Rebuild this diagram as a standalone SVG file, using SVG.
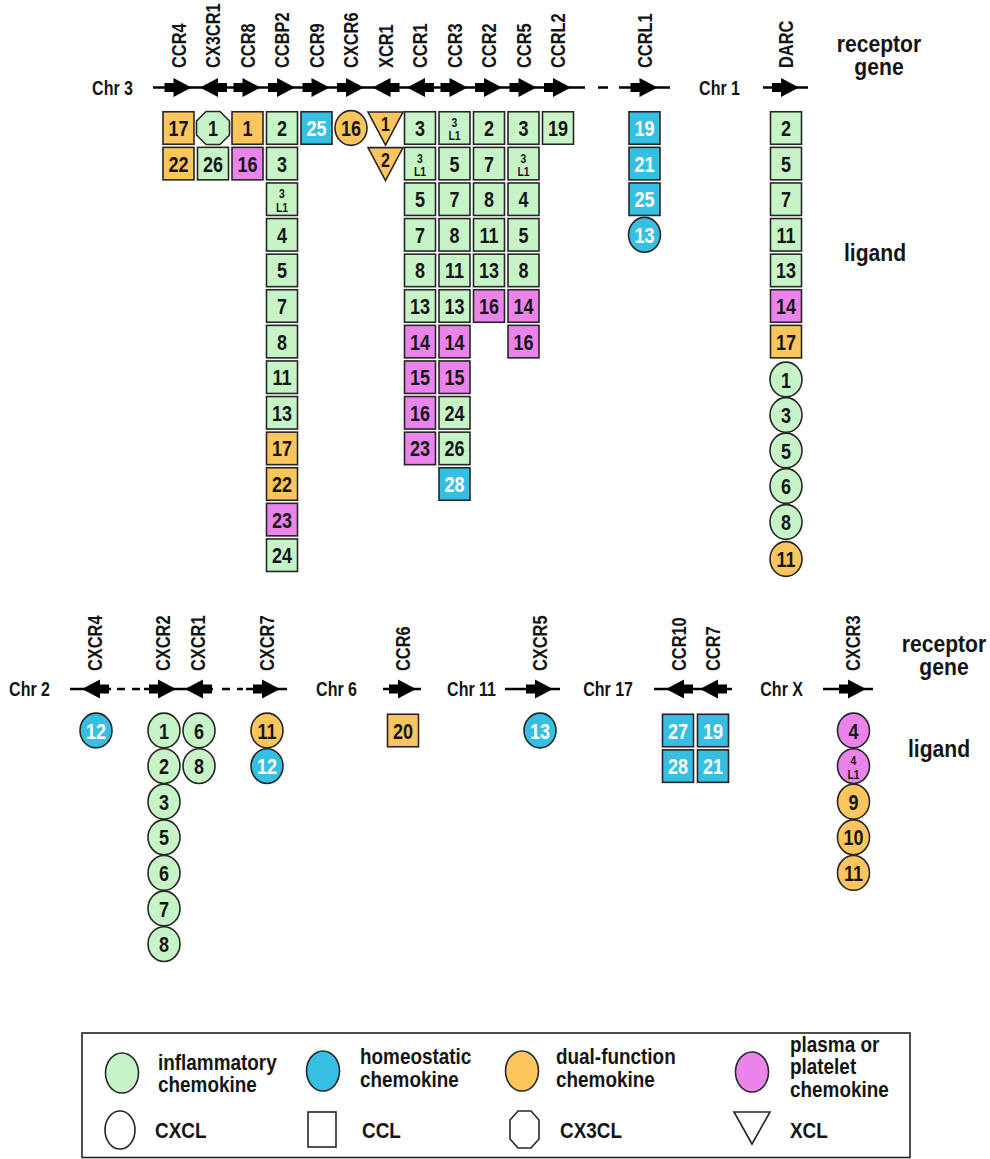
<svg xmlns="http://www.w3.org/2000/svg" xmlns:xlink="http://www.w3.org/1999/xlink" width="990" height="1159" viewBox="0 0 990 1159">
<style>
.sh{stroke:#262626;stroke-width:1.6}
.g{fill:#c6f4c6}
.b{fill:#36bfe2}
.o{fill:#fcc55d}
.p{fill:#eb84ea}
.w{fill:#fff}
text{font-family:"Liberation Sans",Arial,sans-serif;font-weight:bold;fill:#151515}
.n{font-size:22.5px;text-anchor:middle;transform:scale(0.8,1)}
.nw{fill:#fff}
.sm{font-size:13px}
.tri{font-size:20px}
.lab{font-size:20px}
.chr{font-size:20px;text-anchor:end}
.big{font-size:24px;text-anchor:middle}
.leg{font-size:22px}
.ln{stroke:#000;stroke-width:2.5;fill:none}
.arr{fill:#000}
</style>
<defs>
<rect id="sq" x="-15.5" y="-16.25" width="31" height="32.5"/>
<ellipse id="ci" rx="16" ry="17.4"/>
<polygon id="oc" points="-7,-16.5 7,-16.5 16.5,-7 16.5,7 7,16.5 -7,16.5 -16.5,7 -16.5,-7"/>
<polygon id="tr" points="-17.5,-16 17.5,-16 0,17"/>
<path id="ar" d="M-14,-4.5 H-5 V-9.5 L13,0 L-5,9.5 V4.5 H-14 Z"/>
</defs>
<rect width="990" height="1159" fill="#fff"/>

<!-- chromosome lines -->
<g id="chromosomes" class="ln">
<path d="M153,87.5 H585 M598,87.5 H608 M619,87.5 H670 M763,87.5 H808"/>
<path d="M70,689 H111 M117,689 H125 M132,689 H140 M144,689 H213 M222,689 H230 M237,689 H243 M246,689 H287"/>
<path d="M383,689 H421 M505,689 H560 M654,689 H732 M823,689 H873"/>
</g>

<!-- chromosome names and axis captions -->
<g id="captions">
<text class="chr" transform="translate(133,94.5) scale(0.8,1)">Chr 3</text>
<text class="chr" transform="translate(740,94.5) scale(0.8,1)">Chr 1</text>
<text class="chr" transform="translate(50,696) scale(0.8,1)">Chr 2</text>
<text class="chr" transform="translate(357,696) scale(0.8,1)">Chr 6</text>
<text class="chr" transform="translate(496,696) scale(0.8,1)">Chr 11</text>
<text class="chr" transform="translate(633,696) scale(0.8,1)">Chr 17</text>
<text class="chr" transform="translate(803,696) scale(0.8,1)">Chr X</text>
<text class="big" transform="translate(879,52) scale(0.88,1)">receptor</text>
<text class="big" transform="translate(879,75) scale(0.88,1)">gene</text>
<text class="big" transform="translate(875,261) scale(0.88,1)">ligand</text>
<text class="big" transform="translate(944,652) scale(0.88,1)">receptor</text>
<text class="big" transform="translate(944,675) scale(0.88,1)">gene</text>
<text class="big" transform="translate(939,757) scale(0.88,1)">ligand</text>
</g>

<!-- receptor genes: name and orientation -->
<g id="genes">
<g id="gene-CCR4"><text class="lab" transform="translate(178.5,68) rotate(-90) scale(0.82,1)" dy="0.36em">CCR4</text><use xlink:href="#ar" class="arr" transform="translate(178.5,87.5)"/></g>
<g id="gene-CX3CR1"><text class="lab" transform="translate(213,68) rotate(-90) scale(0.82,1)" dy="0.36em">CX3CR1</text><use xlink:href="#ar" class="arr" transform="translate(213,87.5) scale(-1,1)"/></g>
<g id="gene-CCR8"><text class="lab" transform="translate(247.5,68) rotate(-90) scale(0.82,1)" dy="0.36em">CCR8</text><use xlink:href="#ar" class="arr" transform="translate(247.5,87.5)"/></g>
<g id="gene-CCBP2"><text class="lab" transform="translate(282,68) rotate(-90) scale(0.82,1)" dy="0.36em">CCBP2</text><use xlink:href="#ar" class="arr" transform="translate(282,87.5)"/></g>
<g id="gene-CCR9"><text class="lab" transform="translate(316.5,68) rotate(-90) scale(0.82,1)" dy="0.36em">CCR9</text><use xlink:href="#ar" class="arr" transform="translate(316.5,87.5)"/></g>
<g id="gene-CXCR6"><text class="lab" transform="translate(351,68) rotate(-90) scale(0.82,1)" dy="0.36em">CXCR6</text><use xlink:href="#ar" class="arr" transform="translate(351,87.5)"/></g>
<g id="gene-XCR1"><text class="lab" transform="translate(385.5,68) rotate(-90) scale(0.82,1)" dy="0.36em">XCR1</text><use xlink:href="#ar" class="arr" transform="translate(385.5,87.5) scale(-1,1)"/></g>
<g id="gene-CCR1"><text class="lab" transform="translate(420,68) rotate(-90) scale(0.82,1)" dy="0.36em">CCR1</text><use xlink:href="#ar" class="arr" transform="translate(420,87.5) scale(-1,1)"/></g>
<g id="gene-CCR3"><text class="lab" transform="translate(454.5,68) rotate(-90) scale(0.82,1)" dy="0.36em">CCR3</text><use xlink:href="#ar" class="arr" transform="translate(454.5,87.5)"/></g>
<g id="gene-CCR2"><text class="lab" transform="translate(489,68) rotate(-90) scale(0.82,1)" dy="0.36em">CCR2</text><use xlink:href="#ar" class="arr" transform="translate(489,87.5)"/></g>
<g id="gene-CCR5"><text class="lab" transform="translate(523.5,68) rotate(-90) scale(0.82,1)" dy="0.36em">CCR5</text><use xlink:href="#ar" class="arr" transform="translate(523.5,87.5)"/></g>
<g id="gene-CCRL2"><text class="lab" transform="translate(558,68) rotate(-90) scale(0.82,1)" dy="0.36em">CCRL2</text><use xlink:href="#ar" class="arr" transform="translate(558,87.5)"/></g>
<g id="gene-CCRL1"><text class="lab" transform="translate(644.5,68) rotate(-90) scale(0.82,1)" dy="0.36em">CCRL1</text><use xlink:href="#ar" class="arr" transform="translate(644.5,87.5)"/></g>
<g id="gene-DARC"><text class="lab" transform="translate(786,68) rotate(-90) scale(0.82,1)" dy="0.36em">DARC</text><use xlink:href="#ar" class="arr" transform="translate(786,87.5)"/></g>
<g id="gene-CXCR4"><text class="lab" transform="translate(95,671) rotate(-90) scale(0.82,1)" dy="0.36em">CXCR4</text><use xlink:href="#ar" class="arr" transform="translate(95,689) scale(-1,1)"/></g>
<g id="gene-CXCR2"><text class="lab" transform="translate(163,671) rotate(-90) scale(0.82,1)" dy="0.36em">CXCR2</text><use xlink:href="#ar" class="arr" transform="translate(163,689)"/></g>
<g id="gene-CXCR1"><text class="lab" transform="translate(198,671) rotate(-90) scale(0.82,1)" dy="0.36em">CXCR1</text><use xlink:href="#ar" class="arr" transform="translate(198,689) scale(-1,1)"/></g>
<g id="gene-CXCR7"><text class="lab" transform="translate(267,671) rotate(-90) scale(0.82,1)" dy="0.36em">CXCR7</text><use xlink:href="#ar" class="arr" transform="translate(267,689)"/></g>
<g id="gene-CCR6"><text class="lab" transform="translate(403,671) rotate(-90) scale(0.82,1)" dy="0.36em">CCR6</text><use xlink:href="#ar" class="arr" transform="translate(403,689)"/></g>
<g id="gene-CXCR5"><text class="lab" transform="translate(540,671) rotate(-90) scale(0.82,1)" dy="0.36em">CXCR5</text><use xlink:href="#ar" class="arr" transform="translate(540,689)"/></g>
<g id="gene-CCR10"><text class="lab" transform="translate(679,671) rotate(-90) scale(0.82,1)" dy="0.36em">CCR10</text><use xlink:href="#ar" class="arr" transform="translate(679,689) scale(-1,1)"/></g>
<g id="gene-CCR7"><text class="lab" transform="translate(713,671) rotate(-90) scale(0.82,1)" dy="0.36em">CCR7</text><use xlink:href="#ar" class="arr" transform="translate(713,689) scale(-1,1)"/></g>
<g id="gene-CXCR3"><text class="lab" transform="translate(853,671) rotate(-90) scale(0.82,1)" dy="0.36em">CXCR3</text><use xlink:href="#ar" class="arr" transform="translate(853,689)"/></g>
</g>

<!-- ligands on chromosome 3 and 1 -->
<g id="ligands-top">
<g id="CCR4-CCL17" transform="translate(178.5,128)"><use xlink:href="#sq" class="o sh"/><text class="n" y="8">17</text></g>
<g id="CCR4-CCL22" transform="translate(178.5,163.6)"><use xlink:href="#sq" class="o sh"/><text class="n" y="8">22</text></g>
<g id="CX3CR1-CX3CL1" transform="translate(213,128)"><use xlink:href="#oc" class="g sh"/><text class="n" y="8">1</text></g>
<g id="CX3CR1-CCL26" transform="translate(213,163.6)"><use xlink:href="#sq" class="g sh"/><text class="n" y="8">26</text></g>
<g id="CCR8-CCL1" transform="translate(247.5,128)"><use xlink:href="#sq" class="o sh"/><text class="n" y="8">1</text></g>
<g id="CCR8-CCL16" transform="translate(247.5,163.6)"><use xlink:href="#sq" class="p sh"/><text class="n" y="8">16</text></g>

<g id="CCBP2-CCL2" transform="translate(282,128)"><use xlink:href="#sq" class="g sh"/><text class="n" y="8">2</text></g>
<g id="CCBP2-CCL3" transform="translate(282,163.6)"><use xlink:href="#sq" class="g sh"/><text class="n" y="8">3</text></g>
<g id="CCBP2-CCL3L1" transform="translate(282,199.2)"><use xlink:href="#sq" class="g sh"/><text class="n sm" y="-1">3</text><text class="n sm" y="12.5">L1</text></g>
<g id="CCBP2-CCL4" transform="translate(282,234.8)"><use xlink:href="#sq" class="g sh"/><text class="n" y="8">4</text></g>
<g id="CCBP2-CCL5" transform="translate(282,270.4)"><use xlink:href="#sq" class="g sh"/><text class="n" y="8">5</text></g>
<g id="CCBP2-CCL7" transform="translate(282,306)"><use xlink:href="#sq" class="g sh"/><text class="n" y="8">7</text></g>
<g id="CCBP2-CCL8" transform="translate(282,341.6)"><use xlink:href="#sq" class="g sh"/><text class="n" y="8">8</text></g>
<g id="CCBP2-CCL11" transform="translate(282,377.2)"><use xlink:href="#sq" class="g sh"/><text class="n" y="8">11</text></g>
<g id="CCBP2-CCL13" transform="translate(282,412.8)"><use xlink:href="#sq" class="g sh"/><text class="n" y="8">13</text></g>
<g id="CCBP2-CCL17" transform="translate(282,448.4)"><use xlink:href="#sq" class="o sh"/><text class="n" y="8">17</text></g>
<g id="CCBP2-CCL22" transform="translate(282,484)"><use xlink:href="#sq" class="o sh"/><text class="n" y="8">22</text></g>
<g id="CCBP2-CCL23" transform="translate(282,519.6)"><use xlink:href="#sq" class="p sh"/><text class="n" y="8">23</text></g>
<g id="CCBP2-CCL24" transform="translate(282,555.2)"><use xlink:href="#sq" class="g sh"/><text class="n" y="8">24</text></g>

<g id="CCR9-CCL25" transform="translate(316.5,128)"><use xlink:href="#sq" class="b sh"/><text class="n nw" y="8">25</text></g>
<g id="CXCR6-CXCL16" transform="translate(351,128)"><use xlink:href="#ci" class="o sh"/><text class="n" y="8">16</text></g>
<g id="XCR1-XCL1" transform="translate(385.5,128)"><use xlink:href="#tr" class="o sh"/><text class="n tri" y="3">1</text></g>
<g id="XCR1-XCL2" transform="translate(385.5,163.6)"><use xlink:href="#tr" class="o sh"/><text class="n tri" y="3">2</text></g>

<g id="CCR1-CCL3" transform="translate(420,128)"><use xlink:href="#sq" class="g sh"/><text class="n" y="8">3</text></g>
<g id="CCR1-CCL3L1" transform="translate(420,163.6)"><use xlink:href="#sq" class="g sh"/><text class="n sm" y="-1">3</text><text class="n sm" y="12.5">L1</text></g>
<g id="CCR1-CCL5" transform="translate(420,199.2)"><use xlink:href="#sq" class="g sh"/><text class="n" y="8">5</text></g>
<g id="CCR1-CCL7" transform="translate(420,234.8)"><use xlink:href="#sq" class="g sh"/><text class="n" y="8">7</text></g>
<g id="CCR1-CCL8" transform="translate(420,270.4)"><use xlink:href="#sq" class="g sh"/><text class="n" y="8">8</text></g>
<g id="CCR1-CCL13" transform="translate(420,306)"><use xlink:href="#sq" class="g sh"/><text class="n" y="8">13</text></g>
<g id="CCR1-CCL14" transform="translate(420,341.6)"><use xlink:href="#sq" class="p sh"/><text class="n" y="8">14</text></g>
<g id="CCR1-CCL15" transform="translate(420,377.2)"><use xlink:href="#sq" class="p sh"/><text class="n" y="8">15</text></g>
<g id="CCR1-CCL16" transform="translate(420,412.8)"><use xlink:href="#sq" class="p sh"/><text class="n" y="8">16</text></g>
<g id="CCR1-CCL23" transform="translate(420,448.4)"><use xlink:href="#sq" class="p sh"/><text class="n" y="8">23</text></g>

<g id="CCR3-CCL3L1" transform="translate(454.5,128)"><use xlink:href="#sq" class="g sh"/><text class="n sm" y="-1">3</text><text class="n sm" y="12.5">L1</text></g>
<g id="CCR3-CCL5" transform="translate(454.5,163.6)"><use xlink:href="#sq" class="g sh"/><text class="n" y="8">5</text></g>
<g id="CCR3-CCL7" transform="translate(454.5,199.2)"><use xlink:href="#sq" class="g sh"/><text class="n" y="8">7</text></g>
<g id="CCR3-CCL8" transform="translate(454.5,234.8)"><use xlink:href="#sq" class="g sh"/><text class="n" y="8">8</text></g>
<g id="CCR3-CCL11" transform="translate(454.5,270.4)"><use xlink:href="#sq" class="g sh"/><text class="n" y="8">11</text></g>
<g id="CCR3-CCL13" transform="translate(454.5,306)"><use xlink:href="#sq" class="g sh"/><text class="n" y="8">13</text></g>
<g id="CCR3-CCL14" transform="translate(454.5,341.6)"><use xlink:href="#sq" class="p sh"/><text class="n" y="8">14</text></g>
<g id="CCR3-CCL15" transform="translate(454.5,377.2)"><use xlink:href="#sq" class="p sh"/><text class="n" y="8">15</text></g>
<g id="CCR3-CCL24" transform="translate(454.5,412.8)"><use xlink:href="#sq" class="g sh"/><text class="n" y="8">24</text></g>
<g id="CCR3-CCL26" transform="translate(454.5,448.4)"><use xlink:href="#sq" class="g sh"/><text class="n" y="8">26</text></g>
<g id="CCR3-CCL28" transform="translate(454.5,484)"><use xlink:href="#sq" class="b sh"/><text class="n nw" y="8">28</text></g>

<g id="CCR2-CCL2" transform="translate(489,128)"><use xlink:href="#sq" class="g sh"/><text class="n" y="8">2</text></g>
<g id="CCR2-CCL7" transform="translate(489,163.6)"><use xlink:href="#sq" class="g sh"/><text class="n" y="8">7</text></g>
<g id="CCR2-CCL8" transform="translate(489,199.2)"><use xlink:href="#sq" class="g sh"/><text class="n" y="8">8</text></g>
<g id="CCR2-CCL11" transform="translate(489,234.8)"><use xlink:href="#sq" class="g sh"/><text class="n" y="8">11</text></g>
<g id="CCR2-CCL13" transform="translate(489,270.4)"><use xlink:href="#sq" class="g sh"/><text class="n" y="8">13</text></g>
<g id="CCR2-CCL16" transform="translate(489,306)"><use xlink:href="#sq" class="p sh"/><text class="n" y="8">16</text></g>

<g id="CCR5-CCL3" transform="translate(523.5,128)"><use xlink:href="#sq" class="g sh"/><text class="n" y="8">3</text></g>
<g id="CCR5-CCL3L1" transform="translate(523.5,163.6)"><use xlink:href="#sq" class="g sh"/><text class="n sm" y="-1">3</text><text class="n sm" y="12.5">L1</text></g>
<g id="CCR5-CCL4" transform="translate(523.5,199.2)"><use xlink:href="#sq" class="g sh"/><text class="n" y="8">4</text></g>
<g id="CCR5-CCL5" transform="translate(523.5,234.8)"><use xlink:href="#sq" class="g sh"/><text class="n" y="8">5</text></g>
<g id="CCR5-CCL8" transform="translate(523.5,270.4)"><use xlink:href="#sq" class="g sh"/><text class="n" y="8">8</text></g>
<g id="CCR5-CCL14" transform="translate(523.5,306)"><use xlink:href="#sq" class="p sh"/><text class="n" y="8">14</text></g>
<g id="CCR5-CCL16" transform="translate(523.5,341.6)"><use xlink:href="#sq" class="p sh"/><text class="n" y="8">16</text></g>

<g id="CCRL2-CCL19" transform="translate(558,128)"><use xlink:href="#sq" class="g sh"/><text class="n" y="8">19</text></g>

<g id="CCRL1-CCL19" transform="translate(644.5,128)"><use xlink:href="#sq" class="b sh"/><text class="n nw" y="8">19</text></g>
<g id="CCRL1-CCL21" transform="translate(644.5,163.6)"><use xlink:href="#sq" class="b sh"/><text class="n nw" y="8">21</text></g>
<g id="CCRL1-CCL25" transform="translate(644.5,199.2)"><use xlink:href="#sq" class="b sh"/><text class="n nw" y="8">25</text></g>
<g id="CCRL1-CXCL13" transform="translate(644.5,234.8)"><use xlink:href="#ci" class="b sh"/><text class="n nw" y="8">13</text></g>

<g id="DARC-CCL2" transform="translate(786,128)"><use xlink:href="#sq" class="g sh"/><text class="n" y="8">2</text></g>
<g id="DARC-CCL5" transform="translate(786,163.6)"><use xlink:href="#sq" class="g sh"/><text class="n" y="8">5</text></g>
<g id="DARC-CCL7" transform="translate(786,199.2)"><use xlink:href="#sq" class="g sh"/><text class="n" y="8">7</text></g>
<g id="DARC-CCL11" transform="translate(786,234.8)"><use xlink:href="#sq" class="g sh"/><text class="n" y="8">11</text></g>
<g id="DARC-CCL13" transform="translate(786,270.4)"><use xlink:href="#sq" class="g sh"/><text class="n" y="8">13</text></g>
<g id="DARC-CCL14" transform="translate(786,306)"><use xlink:href="#sq" class="p sh"/><text class="n" y="8">14</text></g>
<g id="DARC-CCL17" transform="translate(786,341.6)"><use xlink:href="#sq" class="o sh"/><text class="n" y="8">17</text></g>
<g id="DARC-CXCL1" transform="translate(786,379.5)"><use xlink:href="#ci" class="g sh"/><text class="n" y="8">1</text></g>
<g id="DARC-CXCL3" transform="translate(786,415)"><use xlink:href="#ci" class="g sh"/><text class="n" y="8">3</text></g>
<g id="DARC-CXCL5" transform="translate(786,450.5)"><use xlink:href="#ci" class="g sh"/><text class="n" y="8">5</text></g>
<g id="DARC-CXCL6" transform="translate(786,486)"><use xlink:href="#ci" class="g sh"/><text class="n" y="8">6</text></g>
<g id="DARC-CXCL8" transform="translate(786,522)"><use xlink:href="#ci" class="g sh"/><text class="n" y="8">8</text></g>
<g id="DARC-CXCL11" transform="translate(786,559)"><use xlink:href="#ci" class="o sh"/><text class="n" y="8">11</text></g>
</g>

<!-- ligands on chromosomes 2, 6, 11, 17 and X -->
<g id="ligands-bottom">
<g id="CXCR4-CXCL12" transform="translate(96,730.5)"><use xlink:href="#ci" class="b sh"/><text class="n nw" y="8">12</text></g>
<g id="CXCR2-CXCL1" transform="translate(164,730.5)"><use xlink:href="#ci" class="g sh"/><text class="n" y="8">1</text></g>
<g id="CXCR2-CXCL2" transform="translate(164,766.1)"><use xlink:href="#ci" class="g sh"/><text class="n" y="8">2</text></g>
<g id="CXCR2-CXCL3" transform="translate(164,801.7)"><use xlink:href="#ci" class="g sh"/><text class="n" y="8">3</text></g>
<g id="CXCR2-CXCL5" transform="translate(164,837.3)"><use xlink:href="#ci" class="g sh"/><text class="n" y="8">5</text></g>
<g id="CXCR2-CXCL6" transform="translate(164,872.9)"><use xlink:href="#ci" class="g sh"/><text class="n" y="8">6</text></g>
<g id="CXCR2-CXCL7" transform="translate(164,908.5)"><use xlink:href="#ci" class="g sh"/><text class="n" y="8">7</text></g>
<g id="CXCR2-CXCL8" transform="translate(164,944.1)"><use xlink:href="#ci" class="g sh"/><text class="n" y="8">8</text></g>
<g id="CXCR1-CXCL6" transform="translate(199,730.5)"><use xlink:href="#ci" class="g sh"/><text class="n" y="8">6</text></g>
<g id="CXCR1-CXCL8" transform="translate(199,766.1)"><use xlink:href="#ci" class="g sh"/><text class="n" y="8">8</text></g>
<g id="CXCR7-CXCL11" transform="translate(267,730.5)"><use xlink:href="#ci" class="o sh"/><text class="n" y="8">11</text></g>
<g id="CXCR7-CXCL12" transform="translate(267,766.1)"><use xlink:href="#ci" class="b sh"/><text class="n nw" y="8">12</text></g>
<g id="CCR6-CCL20" transform="translate(403,730.5)"><use xlink:href="#sq" class="o sh"/><text class="n" y="8">20</text></g>
<g id="CXCR5-CXCL13" transform="translate(540,730.5)"><use xlink:href="#ci" class="b sh"/><text class="n nw" y="8">13</text></g>
<g id="CCR10-CCL27" transform="translate(678,730.5)"><use xlink:href="#sq" class="b sh"/><text class="n nw" y="8">27</text></g>
<g id="CCR10-CCL28" transform="translate(678,766.1)"><use xlink:href="#sq" class="b sh"/><text class="n nw" y="8">28</text></g>
<g id="CCR7-CCL19" transform="translate(713,730.5)"><use xlink:href="#sq" class="b sh"/><text class="n nw" y="8">19</text></g>
<g id="CCR7-CCL21" transform="translate(713,766.1)"><use xlink:href="#sq" class="b sh"/><text class="n nw" y="8">21</text></g>
<g id="CXCR3-CXCL4" transform="translate(853.5,730.5)"><use xlink:href="#ci" class="p sh"/><text class="n" y="8">4</text></g>
<g id="CXCR3-CXCL4L1" transform="translate(853.5,766.1)"><use xlink:href="#ci" class="p sh"/><text class="n sm" y="-1">4</text><text class="n sm" y="12.5">L1</text></g>
<g id="CXCR3-CXCL9" transform="translate(853.5,801.7)"><use xlink:href="#ci" class="o sh"/><text class="n" y="8">9</text></g>
<g id="CXCR3-CXCL10" transform="translate(853.5,837.3)"><use xlink:href="#ci" class="o sh"/><text class="n" y="8">10</text></g>
<g id="CXCR3-CXCL11" transform="translate(853.5,872.9)"><use xlink:href="#ci" class="o sh"/><text class="n" y="8">11</text></g>
</g>

<!-- legend -->
<g id="legend">
<rect x="82" y="1033" width="828" height="124.5" fill="#fff" stroke="#222" stroke-width="1.6"/>
<ellipse cx="122" cy="1073" rx="16.5" ry="20" class="g sh"/>
<text class="leg" transform="translate(158,1070) scale(0.86,1)">inflammatory</text>
<text class="leg" transform="translate(158,1092) scale(0.86,1)">chemokine</text>
<ellipse cx="323" cy="1071" rx="16.5" ry="20" class="b sh"/>
<text class="leg" transform="translate(360,1064) scale(0.86,1)">homeostatic</text>
<text class="leg" transform="translate(360,1087) scale(0.86,1)">chemokine</text>
<ellipse cx="522" cy="1071" rx="16.5" ry="20" class="o sh"/>
<text class="leg" transform="translate(556,1064) scale(0.86,1)">dual-function</text>
<text class="leg" transform="translate(556,1087) scale(0.86,1)">chemokine</text>
<ellipse cx="752" cy="1072" rx="16.5" ry="20" class="p sh"/>
<text class="leg" transform="translate(790,1052) scale(0.86,1)">plasma or</text>
<text class="leg" transform="translate(790,1074) scale(0.86,1)">platelet</text>
<text class="leg" transform="translate(790,1097) scale(0.86,1)">chemokine</text>
<ellipse cx="120" cy="1130" rx="15" ry="19" class="w sh"/>
<text class="leg" transform="translate(155,1138) scale(0.86,1)">CXCL</text>
<rect x="308" y="1112" width="28" height="35" class="w sh"/>
<text class="leg" transform="translate(362,1138) scale(0.86,1)">CCL</text>
<polygon points="518,1111 531,1111 539,1120 539,1139 531,1148 518,1148 510,1139 510,1120" class="w sh"/>
<text class="leg" transform="translate(560,1138) scale(0.86,1)">CX3CL</text>
<polygon points="734,1112 770,1112 752,1144" class="w sh"/>
<text class="leg" transform="translate(790,1138) scale(0.86,1)">XCL</text>
</g>
</svg>
